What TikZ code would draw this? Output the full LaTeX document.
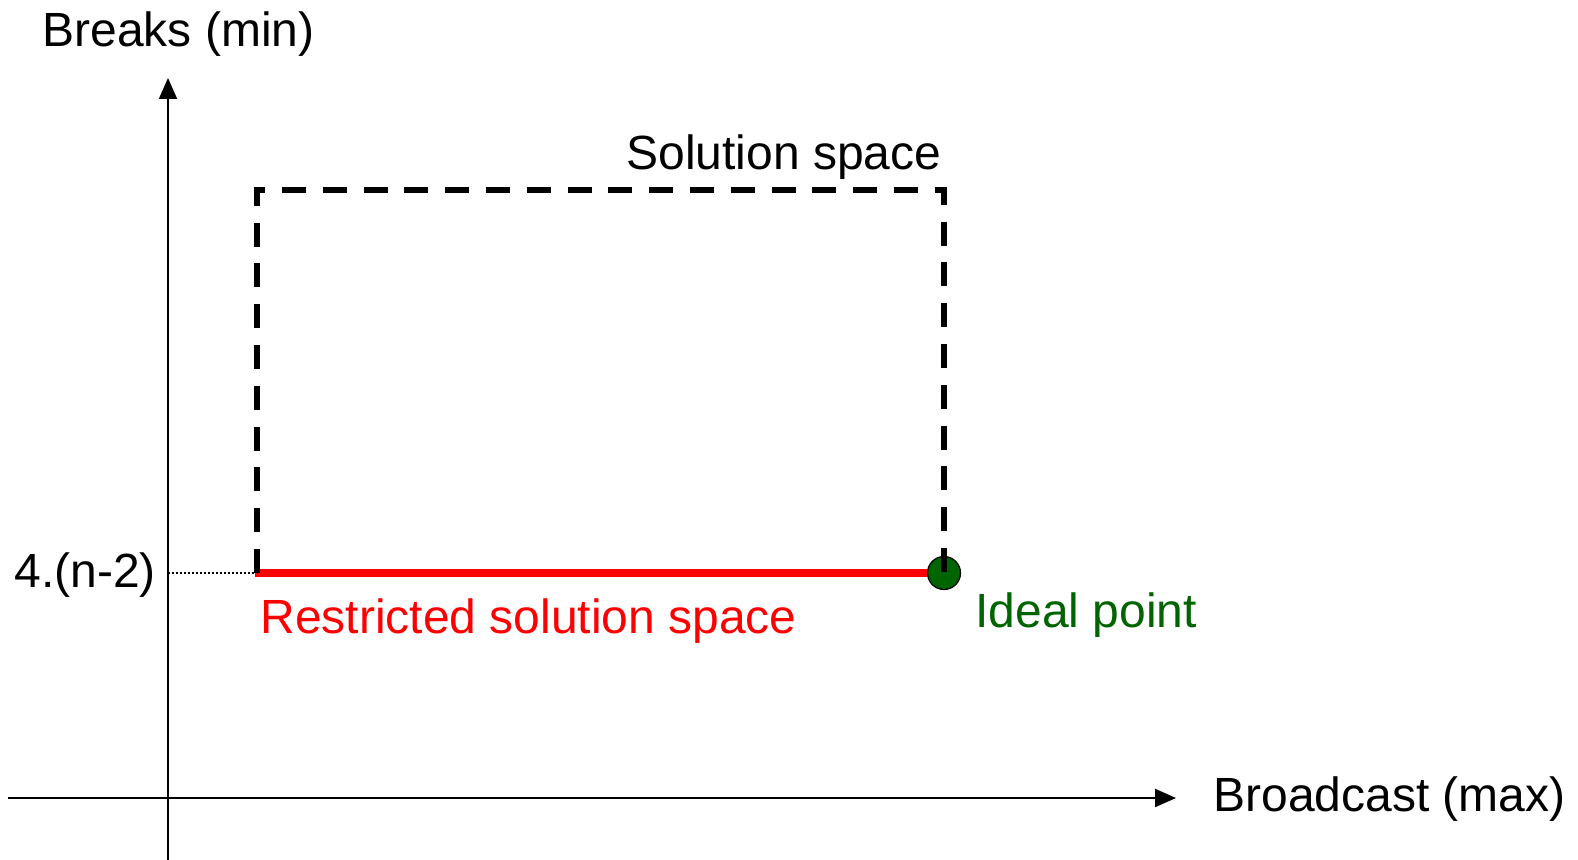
\documentclass[tikz,border=0pt]{standalone}
\usepackage{fontspec}
\setmainfont{Liberation Sans}
\usepackage{tikz}
\usetikzlibrary{arrows.meta,positioning,calc}
\usepackage{xcolor}
\definecolor{idealgreen}{RGB}{0,100,0}
\definecolor{restrictred}{RGB}{255,0,0}
\tikzset{
    axis/.style={line width=1pt, black, -{Triangle[length=10.5pt, width=9pt]}},
    spaceline/.style={line width=3pt, black, dash pattern=on 12pt off 8.4pt},
    restrictline/.style={line width=4pt, restrictred},
    idealdot/.style={circle, draw=black, fill=idealgreen, line width=0.6pt, minimum size=16.5pt, inner sep=0pt},
    guide/.style={line width=0.8pt, black, dash pattern=on 0.8pt off 1.2pt},
    axlabel/.style={anchor=base west, inner sep=0pt, font=\fontsize{24}{29}\selectfont},
}

\begin{document}
\begin{tikzpicture}[x=0.5pt, y=-0.5pt]
    \useasboundingbox (0,0) rectangle (1578,860);

    % Axes
    \coordinate (xstart) at (8,798);
    \coordinate (xend) at (1176,798);
    \coordinate (ystart) at (168,860);
    \coordinate (yend) at (168,78);
    \draw[axis] (xstart) -- (xend);
    \draw[axis] (ystart) -- (yend);

    % Solution space corners
    \coordinate (lowleft) at (257,573);
    \coordinate (upleft) at (257,190);
    \coordinate (upright) at (944,190);
    \coordinate (tick) at (168,573);
    \coordinate (guideend) at (268,573);

    % Restricted solution space and ideal point
    \draw[guide] (tick) -- (guideend);
    \draw[restrictline, shorten <=-1pt] (lowleft) -- (944,573);
    \node[idealdot] (ideal) at (944,573) {};
    \draw[spaceline] (lowleft) -- (upleft) -- (upright) -- (ideal.center);

    % Labels
    \node[axlabel] (ylabel) at (42,47) {Breaks (min)};
    \node[axlabel] (xlabel) at (1213,811) {Broadcast (max)};
    \node[axlabel] (ticklabel) at (14,587) {4.(n-2)};
    \node[axlabel] (spacelabel) at (626,170) {Solution space};
    \node[axlabel, restrictred] (restrictlabel) at (260,633) {Restricted solution space};
    \node[axlabel, idealgreen] (ideallabel) at (975,627) {Ideal point};
\end{tikzpicture}
\end{document}
